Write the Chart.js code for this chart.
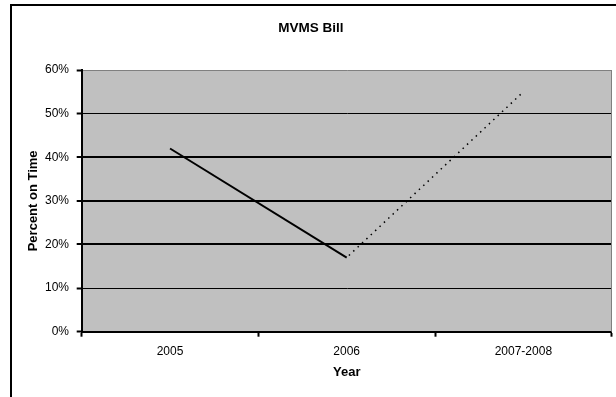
<!DOCTYPE html>
<html>
<head>
<meta charset="utf-8">
<script src="https://cdn.jsdelivr.net/npm/chart.js@4/dist/chart.umd.min.js"></script>
<style>
  html, body { margin: 0; padding: 0; background: #fff; overflow: hidden; }
  #wrap { position: relative; width: 616px; height: 397px; overflow: hidden; }
  #frame { position: absolute; left: 10px; top: 4px; width: 700px; height: 500px;
           border: 2.5px solid #000; pointer-events: none; }
  canvas { position: absolute; left: 0; top: 0; }
</style>
</head>
<body>
<div id="wrap">
  <canvas id="chart" width="616" height="397"></canvas>
  <div id="frame"></div>
</div>
<script>
// Categories and values (percent on time)
const years = ['2005', '2006', '2007-2008'];
const actual = [42, 17, null];      // solid segment
const projected = [null, 17, 55];   // dotted segment
const yTicks = [0, 10, 20, 30, 40, 50, 60];

const FONT = '"Liberation Sans", Arial, sans-serif';

// Gray plot background with a thin gray edge on the right
const plotBackground = {
  id: 'plotBackground',
  beforeDraw(chart) {
    const { ctx, chartArea: a } = chart;
    ctx.save();
    ctx.fillStyle = '#C0C0C0';
    ctx.fillRect(a.left, a.top, a.right - a.left, a.bottom - a.top);
    ctx.restore();
  },
  afterDraw(chart) {
    const { ctx, chartArea: a } = chart;
    ctx.save();
    ctx.strokeStyle = '#808080';
    ctx.lineWidth = 1;
    ctx.beginPath();
    ctx.moveTo(Math.round(a.right) - 0.5, a.top);
    ctx.lineTo(Math.round(a.right) - 0.5, a.bottom);
    ctx.stroke();
    ctx.restore();
  }
};

new Chart(document.getElementById('chart'), {
  type: 'line',
  data: {
    labels: years,
    datasets: [
      {
        label: 'Actual',
        data: actual,
        borderColor: '#000',
        borderWidth: 2,
        pointRadius: 0,
        tension: 0
      },
      {
        label: 'Projected',
        data: projected,
        borderColor: '#000',
        borderWidth: 1.5,
        borderDash: [1.5, 4.5],
        borderDashOffset: -3,
        pointRadius: 0,
        tension: 0
      }
    ]
  },
  options: {
    responsive: false,
    animation: false,
    layout: { padding: { left: 10, right: 4.3, top: 0, bottom: 0 } },
    plugins: {
      legend: { display: false },
      tooltip: { enabled: false },
      title: {
        display: true,
        text: 'MVMS Bill',
        color: '#000',
        font: { family: FONT, size: 13.5, weight: 'bold', lineHeight: 1.2 },
        padding: { top: 19.9, bottom: 33.9 }
      }
    },
    scales: {
      x: {
        type: 'category',
        offset: true,
        afterFit(scale) { scale.height = 65.3; },
        grid: {
          offset: true,
          drawOnChartArea: false,
          drawTicks: true,
          tickLength: 5,
          tickColor: '#000',
          tickWidth: 2
        },
        border: { display: true, color: '#000', width: 2 },
        ticks: {
          color: '#000',
          padding: 7.6,
          font: { family: FONT, size: 12 }
        },
        title: {
          display: true,
          text: 'Year',
          color: '#000',
          font: { family: FONT, size: 13, weight: 'bold', lineHeight: 1.2 },
          padding: { top: 0, bottom: 16.7 }
        }
      },
      y: {
        min: yTicks[0],
        max: yTicks[yTicks.length - 1],
        afterFit(scale) { scale.width = 71.7; },
        afterBuildTicks(scale) { scale.ticks = yTicks.map(v => ({ value: v })); },
        grid: {
          color: ctx => (ctx.tick && ctx.tick.value === 60 ? '#808080' : '#000'),
          lineWidth: ctx => {
            const v = ctx.tick ? ctx.tick.value : 0;
            return (v === 20 || v === 30 || v === 40) ? 2 : 1;
          },
          tickLength: 5,
          tickColor: '#000',
          tickWidth: 2
        },
        border: { display: true, color: '#000', width: 2 },
        ticks: {
          color: '#000',
          padding: 7.7,
          font: { family: FONT, size: 12 },
          callback: v => v + '%'
        },
        title: {
          display: true,
          text: 'Percent on Time',
          color: '#000',
          font: { family: FONT, size: 13, weight: 'bold', lineHeight: 1.2 },
          padding: { top: 15.5, bottom: 0 }
        }
      }
    }
  },
  plugins: [plotBackground]
});
</script>
</body>
</html>
